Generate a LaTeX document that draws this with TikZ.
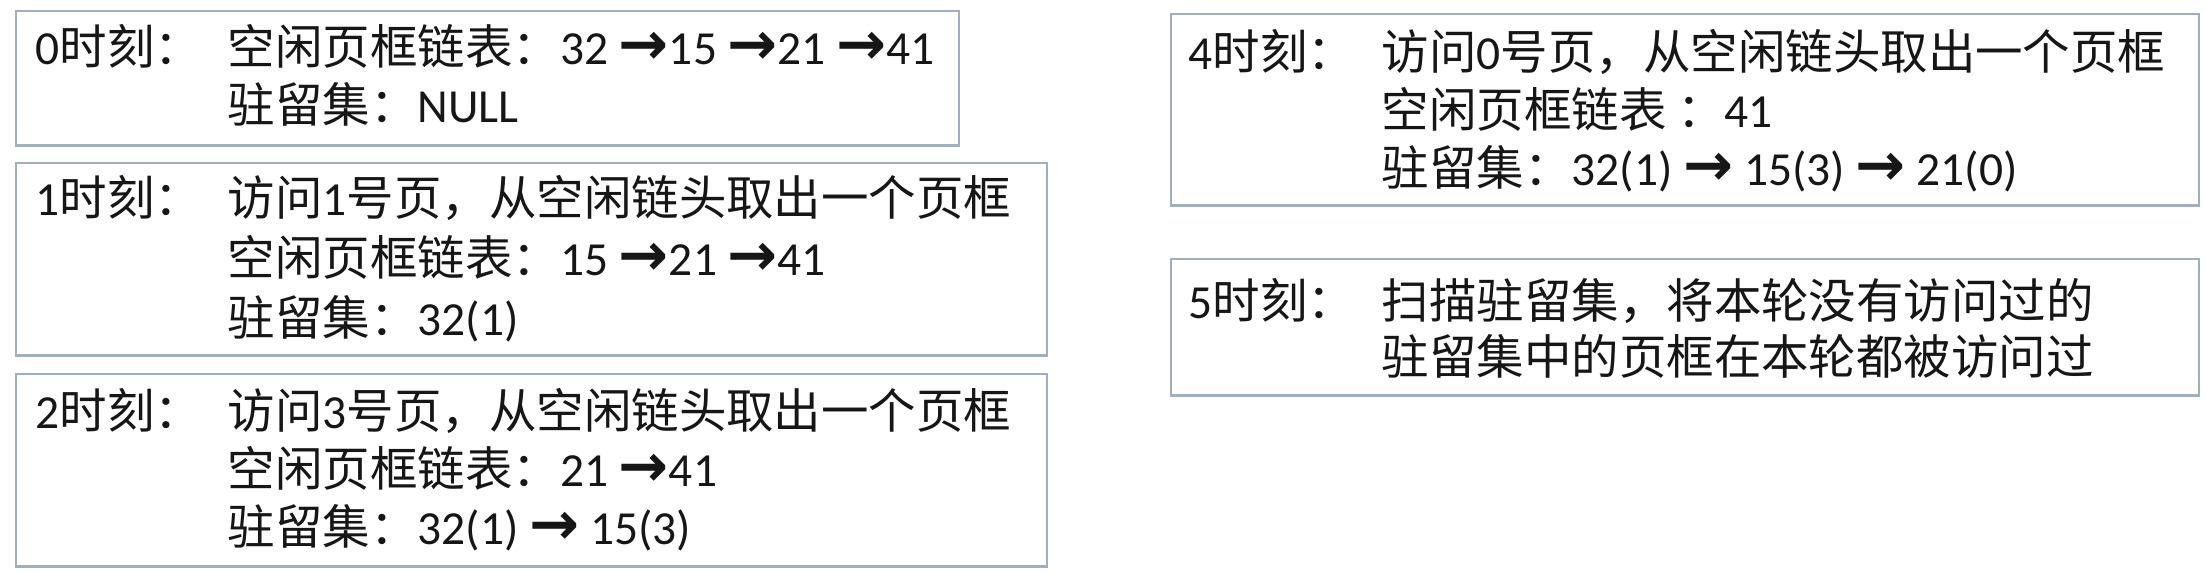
\documentclass[tikz,border=0pt]{standalone}
\usepackage{fontspec}
\setmainfont{Noto Sans CJK SC}
\newfontfamily\lat{Carlito}
\newfontfamily\arrfont{DejaVu Sans}
\newcommand\nm[1]{{\lat #1}}
\newcommand\arr{{\arrfont\bfseries\fontsize{17}{16}\selectfont →}}
\definecolor{boxline}{RGB}{160,174,190}
\definecolor{ink}{RGB}{22,22,22}

\tikzset{
  slotbox/.style={draw=boxline, line width=0.7pt, anchor=north west, inner sep=0pt},
  txt/.style={anchor=base west, inner sep=0pt, text=ink, font=\fontsize{13.5}{16}\selectfont}
}

\begin{document}
\begin{tikzpicture}[x=0.01cm,y=-0.01cm]
  \useasboundingbox (0,0) rectangle (2206,572);

  % time 0
  \node[slotbox, minimum width=9.42cm, minimum height=1.34cm] (f0) at (15,10) {};
  \node[txt] (l0)  at (35,64)   {\nm{0}时刻：};
  \node[txt] (a0)  at (227,64)  {空闲页框链表：\nm{32 }\arr\nm{15 }\arr\nm{21 }\arr\nm{41}};
  \node[txt] (b0)  at (227,122) {驻留集：\nm{NULL}};

  % time 1
  \node[slotbox, minimum width=10.30cm, minimum height=1.92cm] (f1) at (15,162) {};
  \node[txt] (l1)  at (35,215)  {\nm{1}时刻：};
  \node[txt] (a1)  at (227,215) {访问\nm{1}号页，从空闲链头取出一个页框};
  \node[txt] (b1)  at (227,275) {空闲页框链表：\nm{15 }\arr\nm{21 }\arr\nm{41}};
  \node[txt] (c1)  at (227,335) {驻留集：\nm{32(1)}};

  % time 2
  \node[slotbox, minimum width=10.30cm, minimum height=1.92cm] (f2) at (15,373) {};
  \node[txt] (l2)  at (35,428)  {\nm{2}时刻：};
  \node[txt] (a2)  at (227,428) {访问\nm{3}号页，从空闲链头取出一个页框};
  \node[txt] (b2)  at (227,486) {空闲页框链表：\nm{21 }\arr\nm{41}};
  \node[txt] (c2)  at (227,544) {驻留集：\nm{32(1) }\arr\nm{ 15(3)}};

  % time 4
  \node[slotbox, minimum width=10.27cm, minimum height=1.91cm] (f4) at (1170,13) {};
  \node[txt] (l4)  at (1188,69)  {\nm{4}时刻：};
  \node[txt] (a4)  at (1381,69)  {访问\nm{0}号页，从空闲链头取出一个页框};
  \node[txt] (b4)  at (1381,127) {空闲页框链表\nm{ }：\nm{41}};
  \node[txt] (c4)  at (1381,185) {驻留集：\nm{32(1) }\arr\nm{ 15(3) }\arr\nm{ 21(0)}};

  % time 5
  \node[slotbox, minimum width=10.27cm, minimum height=1.36cm] (f5) at (1170,258) {};
  \node[txt] (l5)  at (1188,318) {\nm{5}时刻：};
  \node[txt] (a5)  at (1381,318) {扫描驻留集，将本轮没有访问过的};
  \node[txt] (b5)  at (1381,374) {驻留集中的页框在本轮都被访问过};
\end{tikzpicture}
\end{document}
